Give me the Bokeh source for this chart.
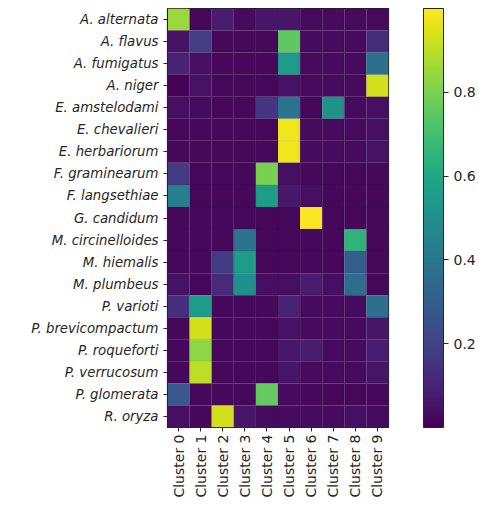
import math

from bokeh.plotting import figure
from bokeh.models import (ColumnDataSource, LinearColorMapper, ColorBar,
                          FixedTicker, FactorRange)
from bokeh.palettes import Viridis256
from bokeh.embed import file_html
from bokeh.resources import INLINE

species = ["A. alternata", "A. flavus", "A. fumigatus", "A. niger",
           "E. amstelodami", "E. chevalieri", "E. herbariorum",
           "F. graminearum", "F. langsethiae", "G. candidum",
           "M. circinelloides", "M. hiemalis", "M. plumbeus", "P. varioti",
           "P. brevicompactum", "P. roqueforti", "P. verrucosum",
           "P. glomerata", "R. oryza"]
clusters = ["Cluster %d" % i for i in range(10)]

# share of each species assigned to each cluster (one list per cluster)
cluster_0 = [0.85, 0.05, 0.10, 0.01, 0.04, 0.02, 0.02, 0.17, 0.43, 0.02, 0.02, 0.02, 0.05, 0.14, 0.02, 0.02, 0.02, 0.27, 0.04]
cluster_1 = [0.02, 0.18, 0.04, 0.05, 0.03, 0.02, 0.02, 0.02, 0.02, 0.02, 0.02, 0.02, 0.02, 0.55, 0.93, 0.83, 0.90, 0.02, 0.02]
cluster_2 = [0.08, 0.02, 0.02, 0.02, 0.02, 0.02, 0.02, 0.02, 0.02, 0.02, 0.02, 0.17, 0.12, 0.02, 0.02, 0.02, 0.02, 0.02, 0.93]
cluster_3 = [0.03, 0.02, 0.02, 0.02, 0.02, 0.02, 0.02, 0.02, 0.02, 0.02, 0.38, 0.55, 0.50, 0.02, 0.02, 0.02, 0.02, 0.02, 0.06]
cluster_4 = [0.06, 0.02, 0.02, 0.02, 0.16, 0.02, 0.02, 0.80, 0.56, 0.02, 0.02, 0.02, 0.04, 0.02, 0.02, 0.02, 0.02, 0.76, 0.03]
cluster_5 = [0.06, 0.75, 0.55, 0.05, 0.38, 0.98, 0.98, 0.04, 0.07, 0.02, 0.02, 0.02, 0.04, 0.10, 0.05, 0.07, 0.06, 0.03, 0.03]
cluster_6 = [0.03, 0.03, 0.03, 0.03, 0.02, 0.03, 0.03, 0.02, 0.04, 1.00, 0.02, 0.02, 0.08, 0.03, 0.03, 0.08, 0.03, 0.02, 0.03]
cluster_7 = [0.03, 0.03, 0.03, 0.03, 0.51, 0.03, 0.03, 0.02, 0.02, 0.02, 0.02, 0.02, 0.04, 0.03, 0.03, 0.03, 0.03, 0.02, 0.03]
cluster_8 = [0.03, 0.03, 0.03, 0.03, 0.03, 0.03, 0.03, 0.02, 0.02, 0.02, 0.65, 0.30, 0.36, 0.03, 0.03, 0.03, 0.03, 0.02, 0.04]
cluster_9 = [0.03, 0.13, 0.37, 0.93, 0.04, 0.04, 0.05, 0.02, 0.02, 0.02, 0.02, 0.02, 0.02, 0.37, 0.06, 0.08, 0.06, 0.02, 0.03]

colorbar_ticks = [0.2, 0.4, 0.6, 0.8]

columns = [cluster_0, cluster_1, cluster_2, cluster_3, cluster_4,
           cluster_5, cluster_6, cluster_7, cluster_8, cluster_9]

xs, ys, vals = [], [], []
for cname, col in zip(clusters, columns):
    for sp, v in zip(species, col):
        xs.append(cname)
        ys.append(sp)
        vals.append(v)
src = ColumnDataSource(dict(cluster=xs, species=ys, share=vals))

mapper = LinearColorMapper(palette=Viridis256, low=0.0, high=1.0)

FONT = "DejaVu Sans"
INK = "#262626"

p = figure(frame_width=221, frame_height=419,
           output_backend="svg", toolbar_location=None,
           x_range=FactorRange(*clusters),
           y_range=FactorRange(*reversed(species)),
           min_border_left=167, min_border_top=8, min_border_bottom=0,
           min_border_right=0)

p.rect(x="cluster", y="species", width=1, height=1, source=src,
       fill_color={"field": "share", "transform": mapper},
       line_color="#222222", line_alpha=0.15, line_width=0.5)

p.grid.visible = False
p.outline_line_color = INK
p.outline_line_width = 1.2
p.x_range.range_padding = 0
p.y_range.range_padding = 0

for ax in (p.xaxis[0], p.yaxis[0]):
    ax.axis_line_color = INK
    ax.major_tick_line_color = INK
    ax.major_tick_out = 4
    ax.major_tick_in = 0
    ax.minor_tick_line_color = None
    ax.major_label_text_font = FONT
    ax.major_label_text_color = INK
    ax.major_label_standoff = 3

p.yaxis.major_label_text_font_size = "13.3px"
p.yaxis.major_label_text_font_style = "italic"
p.yaxis.major_label_standoff = 5
p.xaxis.major_label_text_font_size = "14px"
p.xaxis.major_label_orientation = math.pi / 2

cb = ColorBar(color_mapper=mapper, width=20, height=419,
              ticker=FixedTicker(ticks=colorbar_ticks),
              margin=0, padding=0, location=(35, 0),
              major_tick_out=5, major_tick_in=0,
              major_tick_line_color=INK,
              major_label_text_font=FONT,
              major_label_text_font_size="14px",
              major_label_text_color=INK,
              label_standoff=5,
              bar_line_color=INK, bar_line_width=1,
              border_line_color=None, background_fill_color=None)
p.add_layout(cb, "right")

open("out.html", "w").write(file_html(p, INLINE))
